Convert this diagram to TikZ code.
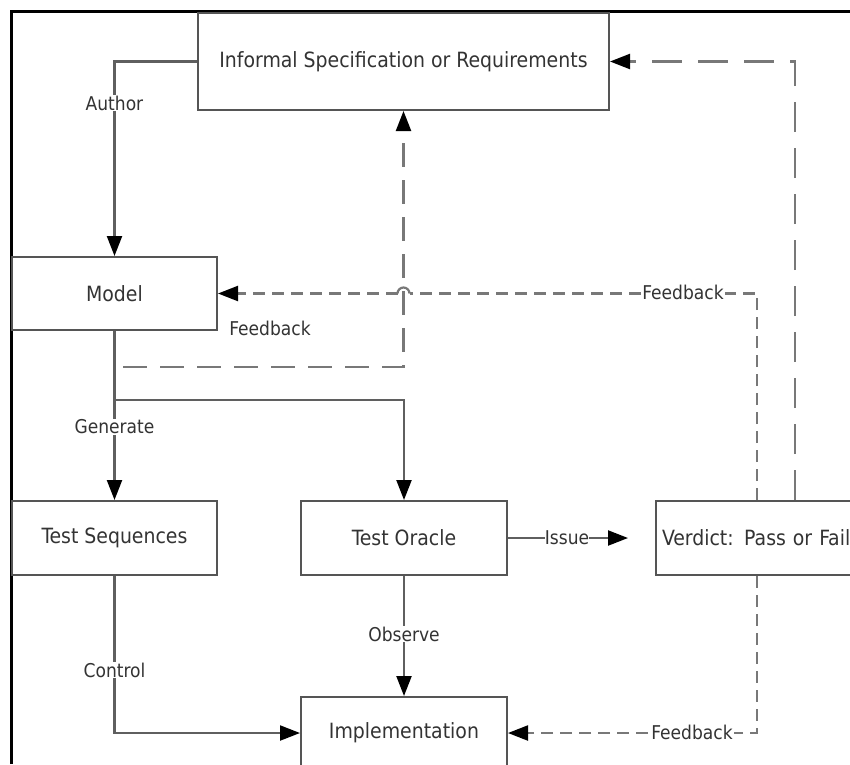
\documentclass[tikz,border=0pt]{standalone}
\usepackage{fontspec}
\setmainfont{DejaVu Sans Condensed}
\usetikzlibrary{arrows.meta,calc}
\definecolor{boxcol}{RGB}{85,85,85}
\definecolor{linecol}{RGB}{95,95,95}
\definecolor{dashcol}{RGB}{120,120,120}
\begin{document}
\begin{tikzpicture}[x=1pt,y=-1pt,
  box/.style={draw=boxcol,line width=2pt,rectangle,inner sep=0pt,font=\fontsize{21}{24}\selectfont,text=black!80},
  tip/.style={-{Triangle[length=20pt,width=15pt,color=black]}},
  conn/.style={draw=linecol,line width=2.2pt,tip},
  longdash/.style={draw=dashcol,line width=2.2pt,dash pattern=on 24pt off 13pt},
  shortdash/.style={draw=dashcol,line width=2.2pt,dash pattern=on 12pt off 7pt},
  lbl/.style={fill=white,inner sep=1pt,font=\fontsize{19}{21}\selectfont,text=black!80}]
\useasboundingbox (0,0) rectangle (850,764);
% outer frame
\draw[black,line width=3pt] (11,764) -- (11,11) -- (850,11);
% boxes
\node[box,minimum width=411pt,minimum height=97pt] (spec) at (403.5,61.5) {Informal Specification or Requirements};
\node[box,minimum width=205pt,minimum height=73pt] (model) at (114.5,293.5) {Model};
\node[box,minimum width=205pt,minimum height=74pt] (seq) at (114.5,538) {Test Sequences};
\node[box,minimum width=206pt,minimum height=74pt] (oracle) at (404,538) {Test Oracle};
\node[box,minimum width=210pt,minimum height=74pt,text width=200pt,align=left] (verdict) at (761,538) {\hspace*{1pt}Verdict: Pass or Fail};
\node[box,minimum width=206pt,minimum height=72pt] (impl) at (404,733) {Implementation};
% coordinates
\coordinate (v1) at ($(verdict.north west)+(102,0)$);
\coordinate (v2) at ($(verdict.north west)+(140,0)$);
\coordinate (v3) at ($(verdict.south west)+(102,0)$);
\coordinate (mf) at (123,367);
\coordinate (j) at (114.5,400);
\coordinate (iss) at (628,538);
\coordinate (hopR) at (409.5,293.5);
\coordinate (hopL) at (397.5,293.5);
% Author
\draw[conn] (spec.west) -| (model.north);
\node[lbl] (lauthor) at (114.5,103) {Author};
% Model feedback to spec
\draw[longdash,tip] (mf) -| (spec.south);
\node[lbl,fill=none] (lfb1) at (270,328) {Feedback};
% verdict feedback to model with line jump
\draw[shortdash] (v1) |- (hopR);
\draw[dashcol,line width=2.2pt] (hopR) arc[start angle=0,end angle=180,radius=6pt];
\draw[shortdash,tip] (hopL) -- (model.east);
\node[lbl] (lfb2) at (683,292) {Feedback};
% verdict feedback to spec
\draw[longdash,dash pattern=on 30pt off 16pt,tip] (v2) |- (spec.east);
% verdict feedback to implementation
\draw[shortdash,tip] (v3) |- (impl.east);
\node[lbl] (lfb3) at (692,732) {Feedback};
% Generate
\draw[conn] (model.south) -- (seq.north);
\draw[conn] (j) -| (oracle.north);
\node[lbl] (lgen) at (114.5,427) {Generate};
% Issue
\draw[conn] (oracle.east) -- (iss);
\node[lbl,inner sep=0pt] (liss) at (567,538) {Issue};
% Control
\draw[conn] (seq.south) |- (impl.west);
\node[lbl] (lctl) at (114.5,670) {Control};
% Observe
\draw[conn] (oracle.south) -- (impl.north);
\node[lbl] (lobs) at (404,634) {Observe};
\end{tikzpicture}
\end{document}
